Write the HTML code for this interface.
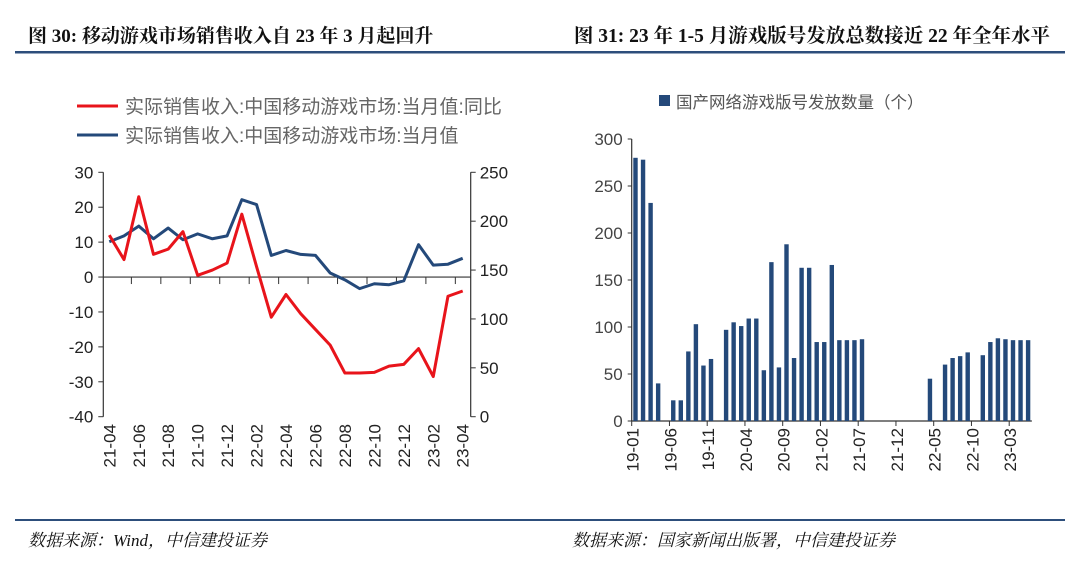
<!DOCTYPE html>
<html><head><meta charset="utf-8">
<style>
body{margin:0;background:#fff;width:1080px;height:565px;overflow:hidden;font-family:"Liberation Sans","Noto Sans CJK SC",sans-serif}
svg{display:block}
</style></head><body>
<svg id="s" width="1080" height="565" xmlns="http://www.w3.org/2000/svg">
<text x="28" y="42" font-family="Liberation Serif,Noto Serif CJK SC,serif" font-weight="bold" font-size="19" fill="#111">图  30:  移动游戏市场销售收入自 23 年 3 月起回升</text>
<text x="1050" y="42" text-anchor="end" font-family="Liberation Serif,Noto Serif CJK SC,serif" font-weight="bold" font-size="19.5" fill="#111">图  31:  23 年 1-5 月游戏版号发放总数接近 22 年全年水平</text>
<rect x="15" y="51" width="1050" height="2.5" fill="#2d4e7b"/>
<rect x="15" y="519" width="1050" height="2" fill="#2d4e7b"/>
<text x="28" y="546" font-family="Liberation Serif,Noto Serif CJK SC,serif" font-style="italic" font-size="17" fill="#111">数据来源：Wind，中信建投证券</text>
<text x="572" y="546" font-family="Liberation Serif,Noto Serif CJK SC,serif" font-style="italic" font-size="17" fill="#111">数据来源：国家新闻出版署，中信建投证券</text>
<g>
<line x1="77" y1="106" x2="118" y2="106" stroke="#e8141b" stroke-width="3"/>
<text x="125" y="113" font-size="19" fill="#666">实际销售收入:中国移动游戏市场:当月值:同比</text>
<line x1="77" y1="135" x2="118" y2="135" stroke="#24497a" stroke-width="3"/>
<text x="125" y="142" font-size="19" fill="#666">实际销售收入:中国移动游戏市场:当月值</text>
</g>
<g>
<rect x="659" y="95" width="11" height="11" fill="#24497a"/>
<text x="676" y="108" font-size="16.5" fill="#555">国产网络游戏版号发放数量（个）</text>
</g>
<g id="L"></g><g id="R"></g>
</svg>
<script>
const leftCats=["21-04","21-05","21-06","21-07","21-08","21-09","21-10","21-11","21-12","22-01","22-02","22-03","22-04","22-05","22-06","22-07","22-08","22-09","22-10","22-11","22-12","23-01","23-02","23-03","23-04"];
const yoyValues=[12,5,23,6.5,8,13,0.5,2,4,18,3,-11.5,-5,-10.5,-15,-19.5,-27.5,-27.5,-27.3,-25.5,-25,-20.5,-28.5,-5.5,-4];
const revenueValues=[179,185,195,182,193,181,187,182,185,222,217,165,170,166,165,147,140,131,136,135,139,176,155,156,162];
const leftTicks=[-40,-30,-20,-10,0,10,20,30];
const rightTicks=[0,50,100,150,200,250];

const rightCats=[];for(let y=19;y<=23;y++)for(let m=1;m<=12;m++){if(y==23&&m>5)break;rightCats.push(y+"-"+String(m).padStart(2,"0"));}
const licenseValues=[280,278,232,40,0,22,22,74,103,59,66,0,97,105,101,109,109,54,169,57,188,67,163,163,84,84,166,86,86,86,87,0,0,0,0,0,0,0,0,45,0,60,67,69,73,0,70,84,88,87,86,86,86];
const barTicks=[0,50,100,150,200,250,300];

const NS="http://www.w3.org/2000/svg";
function mk(p,t,a,txt){const e=document.createElementNS(NS,t);for(const k in a)e.setAttribute(k,a[k]);if(txt!=null)e.textContent=txt;p.appendChild(e);return e;}

// Left chart
const L=document.getElementById("L");
const lx0=103.3,lx1=470.7,ly30=172.3,ly40=416.7;
const xL=i=>109.3+i*(462.7-109.3)/(leftCats.length-1);
const yL=v=>ly40-(v+40)*(ly40-ly30)/70;
const yR=v=>ly40-v*(ly40-ly30)/250;
let e;
e=mk(L,"line",{x1:lx0,y1:ly30,x2:lx0,y2:ly40,stroke:"#333","stroke-width":1.2});

e=mk(L,"line",{x1:lx1,y1:ly30,x2:lx1,y2:ly40,stroke:"#333","stroke-width":1.2});

e=mk(L,"line",{x1:lx0,y1:yL(0),x2:lx1,y2:yL(0),stroke:"#333","stroke-width":1.2});

leftTicks.forEach(v=>{mk(L,"line",{x1:lx0-5,y1:yL(v),x2:lx0,y2:yL(v),stroke:"#333"});
 e=mk(L,"text",{x:lx0-10,y:yL(v)+6,"text-anchor":"end","font-size":17,fill:"#222"},v);
 });
rightTicks.forEach(v=>{mk(L,"line",{x1:lx1,y1:yR(v),x2:lx1+5,y2:yR(v),stroke:"#333"});
 e=mk(L,"text",{x:lx1+9,y:yR(v)+6,"font-size":17,fill:"#222"},v);
 });
leftCats.forEach((c,i)=>{
 if(i%2==0&&i<leftCats.length-1){mk(L,"line",{x1:xL(i+1.5),y1:yL(0),x2:xL(i+1.5),y2:yL(0)+7,stroke:"#333"});}
 if(i%2==0){e=mk(L,"text",{x:0,y:0,transform:`translate(${xL(i)+6},${424}) rotate(-90)`,"text-anchor":"end","font-size":17,fill:"#222"},c);
 }
});
e=mk(L,"polyline",{points:revenueValues.map((v,i)=>xL(i)+","+yR(v)).join(" "),fill:"none",stroke:"#24497a","stroke-width":3,"stroke-linejoin":"round"});

e=mk(L,"polyline",{points:yoyValues.map((v,i)=>xL(i)+","+yL(v)).join(" "),fill:"none",stroke:"#e8141b","stroke-width":3,"stroke-linejoin":"round"});


// Right chart
const R=document.getElementById("R");
const rx0=631.7,bw=7.55,by0=421,by300=139;
const yB=v=>by0-v*(by0-by300)/300;
e=mk(R,"line",{x1:rx0,y1:by300,x2:rx0,y2:by0,stroke:"#333","stroke-width":1.2});

e=mk(R,"line",{x1:rx0,y1:by0,x2:rx0+bw*rightCats.length,y2:by0,stroke:"#333","stroke-width":1.2});

barTicks.forEach(v=>{mk(R,"line",{x1:rx0-4,y1:yB(v),x2:rx0,y2:yB(v),stroke:"#333"});
 e=mk(R,"text",{x:rx0-9,y:yB(v)+6,"text-anchor":"end","font-size":17,fill:"#444"},v);
 });
licenseValues.forEach((v,i)=>{
 if(v>0){e=mk(R,"rect",{x:rx0+i*bw+1.6,y:yB(v),width:4.4,height:by0-yB(v),fill:"#24497a"});
 }
});
rightCats.forEach((c,i)=>{if(i%5==0){
 mk(R,"line",{x1:rx0+i*bw,y1:by0,x2:rx0+i*bw,y2:by0+5,stroke:"#333"});
 e=mk(R,"text",{x:0,y:0,transform:`translate(${rx0+i*bw+7},${428}) rotate(-90)`,"text-anchor":"end","font-size":17,fill:"#222"},c);
 }});
</script>
</body></html>
